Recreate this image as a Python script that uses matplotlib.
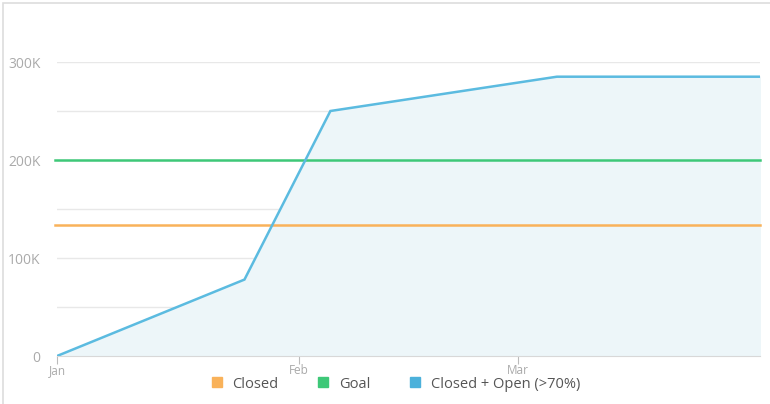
import matplotlib
matplotlib.use("Agg")
import matplotlib.pyplot as plt
from matplotlib.lines import Line2D
from matplotlib.patches import Rectangle

# 数据 (x = day of year, Jan 1 = 0)
days = [0, 24, 35, 64, 90]
closed_open = [0, 78000, 250000, 285000, 285000]
closed_value = 134000
goal_value = 200000
month_ticks = [0, 31, 59]
month_labels = ["Jan", "Feb", "Mar"]
y_ticks = [0, 100000, 200000, 300000]
y_labels = ["0", "100K", "200K", "300K"]
legend_names = ["Closed", "Goal", "Closed + Open (>70%)"]

c_orange = "#f9b25a"
c_green = "#3ec878"
c_blue = "#5bbbe0"
c_legend_blue = "#4cb1db"

plt.rcParams["font.family"] = ["Open Sans", "DejaVu Sans"]

fig = plt.figure(figsize=(7.7, 4.04), dpi=100)
ax = fig.add_axes([57 / 770, 48 / 404, 703 / 770, 294 / 404])

# card border
fig.patches.append(Rectangle((3 / 770, -0.1), 1.2, 1.1 - 3 / 404, transform=fig.transFigure,
                             fill=False, edgecolor="#dddddd", linewidth=1.2))

ax.fill_between(days, closed_open, 0, color="#edf6f9", zorder=1)
ax.plot(days, closed_open, color=c_blue, linewidth=1.8, zorder=4, solid_joinstyle="miter")
ax.plot([-0.3, days[-1]], [closed_value] * 2, color=c_orange, linewidth=1.8, zorder=3, clip_on=False)
ax.plot([-0.3, days[-1]], [goal_value] * 2, color=c_green, linewidth=1.8, zorder=3, clip_on=False)

ax.set_xlim(0, 90)
ax.set_ylim(0, 300000)

for y in range(50000, 300001, 50000):
    ax.axhline(y, color="#e8e8e8", linewidth=1, zorder=0)

for s in ["top", "right", "left"]:
    ax.spines[s].set_visible(False)
ax.spines["bottom"].set_color("#d8d8d8")

ax.set_xticks(month_ticks)
ax.set_xticklabels(month_labels)
ax.set_yticks(y_ticks)
ax.set_yticklabels(y_labels)
ax.tick_params(axis="x", colors="#bbbbbb", labelcolor="#aaaaaa", labelsize=8.5, length=6, pad=0)
ax.tick_params(axis="y", length=0, labelcolor="#aaaaaa", labelsize=10, pad=12)

handles = [Line2D([], [], marker="s", linestyle="none", color=c, markersize=7)
           for c in [c_orange, c_green, c_legend_blue]]
fig.legend(handles, legend_names, loc="center", bbox_to_anchor=(391 / 770, 1 - 384 / 404),
           ncol=3, frameon=False, fontsize=10.5, handletextpad=0.05, columnspacing=2.1,
           labelcolor="#555555")

fig.savefig("out.png", dpi=100)
